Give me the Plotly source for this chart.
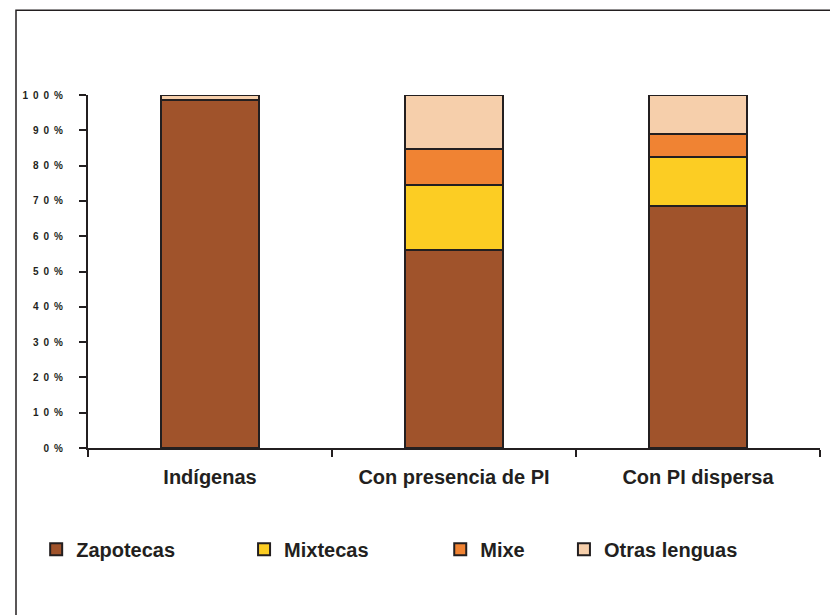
import plotly.graph_objects as go

categories = ["Indígenas", "Con presencia de PI", "Con PI dispersa"]
series_names = ["Zapotecas", "Mixtecas", "Mixe", "Otras lenguas"]
zapotecas = [98.5, 56.0, 68.5]
mixtecas = [0.0, 18.5, 13.9]
mixe = [0.0, 10.3, 6.5]
otras = [1.5, 15.2, 11.1]
colors = ["#A0532B", "#FCCD23", "#F08333", "#F6CFAB"]
ytick_vals = [0, 10, 20, 30, 40, 50, 60, 70, 80, 90, 100]
ytick_text = ["0\u2002%", "1\u20020\u2002%", "2\u20020\u2002%", "3\u20020\u2002%",
              "4\u20020\u2002%", "5\u20020\u2002%", "6\u20020\u2002%", "7\u20020\u2002%",
              "8\u20020\u2002%", "9\u20020\u2002%", "1\u20020\u20020\u2002%"]

FONT = "Liberation Sans, Arial, sans-serif"
TXT = "#231F20"

fig = go.Figure()
values = [zapotecas, mixtecas, mixe, otras]
legend_ids = ["legend", "legend2", "legend3", "legend4"]
for name, vals, col, lg in zip(series_names, values, colors, legend_ids):
    fig.add_trace(go.Bar(
        x=categories, y=vals, name=name, legend=lg,
        marker=dict(color=col, line=dict(color="#231F20", width=2)),
        width=0.4,
    ))

# legend positions (paper x of each legend box)
legend_x = [-0.0708, 0.2132, 0.4812, 0.6502]
leg_common = dict(orientation="h", yanchor="middle", y=-0.287, xanchor="left",
                  font=dict(family=FONT, size=20, color=TXT, weight="bold"),
                  bgcolor="rgba(0,0,0,0)", borderwidth=0)
layout_legends = {}
for lg, lx in zip(legend_ids, legend_x):
    d = dict(leg_common)
    d["x"] = lx
    layout_legends[lg] = d

fig.update_layout(
    barmode="stack",
    width=830, height=615,
    margin=dict(l=88, r=10, t=95, b=167),
    paper_bgcolor="white", plot_bgcolor="white",
    showlegend=True,
    **layout_legends,
    xaxis=dict(
        type="category", tickson="boundaries",
        showline=True, linecolor="#231F20", linewidth=2,
        ticks="outside", ticklen=7, tickwidth=2, tickcolor="#231F20",
        showgrid=False, zeroline=False,
        tickfont=dict(family=FONT, size=20, color=TXT, weight="bold"),
        ticklabelstandoff=10,
    ),
    yaxis=dict(
        range=[0, 100], tickvals=ytick_vals, ticktext=ytick_text,
        showline=True, linecolor="#231F20", linewidth=2,
        ticks="outside", ticklen=7, tickwidth=2, tickcolor="#231F20",
        showgrid=False, zeroline=False,
        tickfont=dict(family=FONT, size=10, color=TXT, weight="bold"),
        ticklabelstandoff=14,
    ),
    shapes=[dict(type="rect", xref="paper", yref="paper",
                 x0=(16 - 88) / 732, x1=1.2, y0=-0.7, y1=(447.7 - 10) / 353,
                 line=dict(color="#231F20", width=1.5), layer="below")],
)

fig.write_html(
    "out.html",
    config={"displayModeBar": False},
    post_script="document.body.style.margin='0';document.body.style.overflow='hidden';",
)
